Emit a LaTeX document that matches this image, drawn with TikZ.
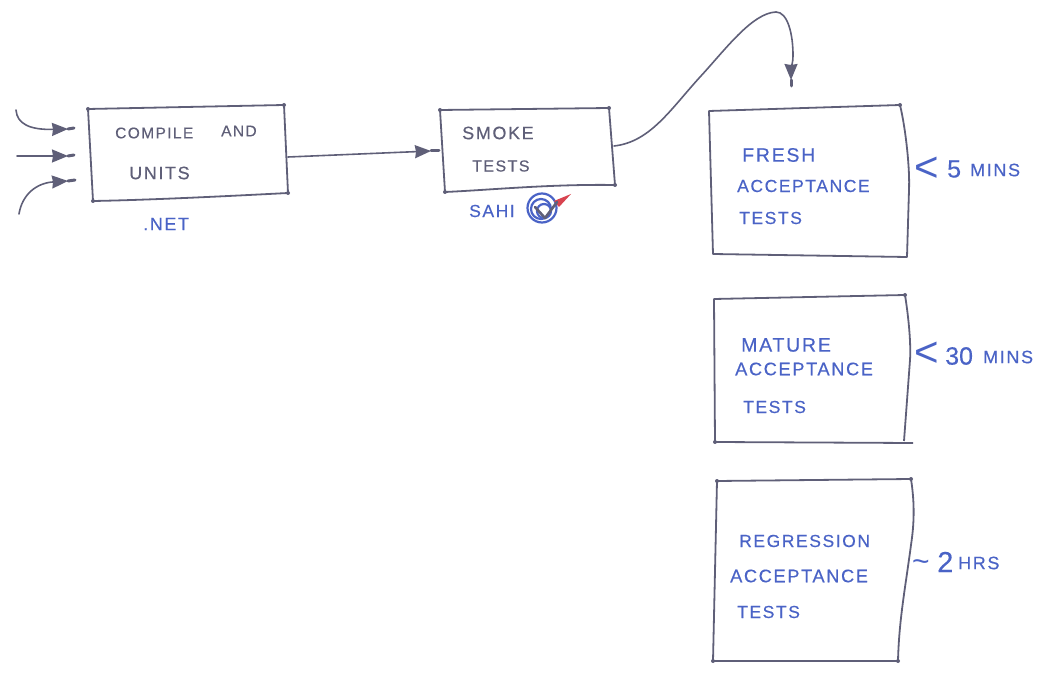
\documentclass[tikz,border=0pt]{standalone}
\usepackage{fontspec}
\setmainfont{Liberation Sans}
\newfontfamily\hand[LetterSpace=9,FakeBold=0.4]{Liberation Sans}
\newfontfamily\handnum[FakeBold=0.3]{Liberation Sans}
\usetikzlibrary{arrows.meta}
\definecolor{ink}{HTML}{5F5F78}
\definecolor{pen}{HTML}{4A63C6}
\definecolor{tick}{HTML}{D8434F}
\tikzset{
  sketchbox/.style={draw=ink,line width=1.8pt,line join=round},
  wire/.style={draw=ink,line width=1.6pt,line cap=round},
  headed/.style={wire,-{Stealth[length=16pt,width=13pt,inset=1pt]}},
  nib/.style={draw=ink,line width=3pt,line cap=round},
  inktext/.style={anchor=west,inner sep=0pt,text=ink,font=\hand\fontsize{15.5}{18}\selectfont},
  inkbig/.style={inktext,font=\hand\fontsize{18}{20}\selectfont},
  inkmid/.style={inktext,font=\hand\fontsize{16}{18}\selectfont},
  pentext/.style={anchor=west,inner sep=0pt,text=pen,font=\hand\fontsize{19.5}{22}\selectfont},
  smallpen/.style={anchor=west,inner sep=0pt,text=pen,font=\hand\fontsize{17.5}{20}\selectfont},
  widepen/.style={smallpen,font=\hand\fontsize{18.2}{20}\selectfont},
  minspen/.style={anchor=west,inner sep=0pt,text=pen,font=\hand\fontsize{18}{20}\selectfont},
  bigpen/.style={anchor=west,inner sep=0pt,text=pen,font=\handnum\fontsize{25}{30}\selectfont},
  hugepen/.style={bigpen,font=\handnum\fontsize{29}{34}\selectfont},
  symbolpen/.style={anchor=west,inner sep=0pt,text=pen,font=\fontsize{42}{42}\selectfont},
  tildepen/.style={symbolpen,font=\fontsize{30}{30}\selectfont},
  helix/.style={draw=pen,line width=2.2pt},
  cornerdot/.style={fill=ink},
}
\begin{document}
\begin{tikzpicture}[x=1pt,y=-1pt]
\useasboundingbox (0,0) rectangle (1037,676);
% box corners
\coordinate (a1) at (88,109); \coordinate (a2) at (284,105); \coordinate (a3) at (288,193); \coordinate (a4) at (93,201);
\coordinate (b1) at (440,110); \coordinate (b2) at (609,108); \coordinate (b3) at (615,185); \coordinate (b4) at (445,192);
\coordinate (c1) at (709,111); \coordinate (c2) at (900,105); \coordinate (c3) at (907,257); \coordinate (c4) at (713,254);
\coordinate (d1) at (714,299); \coordinate (d2) at (905,295); \coordinate (d3) at (913,443); \coordinate (d4) at (715,442);
\coordinate (d5) at (910,360); \coordinate (d6) at (904,441);
\coordinate (e1) at (717,481); \coordinate (e2) at (911,479); \coordinate (e3) at (898,661); \coordinate (e4) at (713,661);
\draw[sketchbox] (a1) -- (a2) -- (a3) .. controls (230,196) and (150,200) .. (a4) -- cycle;
\draw[sketchbox] (b1) -- (b2) -- (b3) .. controls (550,184) and (490,190) .. (b4) -- cycle;
\draw[sketchbox] (c1) -- (c2) .. controls (906,130) and (910,170) .. (909,190) -- (c3) -- (c4) -- cycle;
\draw[sketchbox] (d3) -- (d4) -- (d1) -- (d2) .. controls (909,320) and (911,345) .. (d5) -- (d6);
\draw[sketchbox] (e1) -- (e2) .. controls (915,505) and (914,525) .. (911,545) .. controls (905,590) and (899,620) .. (e3) -- (e4) -- cycle;
\foreach \c in {a1,a2,a3,a4,b1,b2,b3,b4,c2,d2,e1,e2,e3,e4,d4}
  \fill[cornerdot] (\c) circle (2);
% text
\node[inktext] (t1) at (115,133) {COMPILE};
\node[inktext] (t2) at (221,131) {AND};
\node[inkbig] (t3) at (129,173) {UNITS};
\node[inkbig] (t4) at (462,133) {SMOKE};
\node[inkmid] (t5) at (472,166) {TESTS};
\node[minspen] (n1) at (143,224) {.NET};
\node[smallpen] (n2) at (469,211) {SAHI};
\node[pentext] (f1) at (742,155) {FRESH};
\node[smallpen] (f2) at (737,186) {ACCEPTANCE};
\node[smallpen] (f3) at (739,218) {TESTS};
\node[pentext] (m1) at (741,345) {MATURE};
\node[widepen] (m2) at (735,369) {ACCEPTANCE};
\node[smallpen] (m3) at (743,407) {TESTS};
\node[smallpen] (r1) at (739,541) {REGRESSION};
\node[widepen] (r2) at (730,576) {ACCEPTANCE};
\node[smallpen] (r3) at (737,612) {TESTS};
\node[symbolpen] (l1) at (914,169) {<};
\node[bigpen] (l2) at (947,169) {5};
\node[minspen] (l3) at (970,170) {MINS};
\node[symbolpen] (l4) at (914,354) {<};
\node[bigpen] (l5) at (945,356) {30};
\node[minspen] (l6) at (983,357) {MINS};
\node[tildepen] (l7) at (912,566) {\char`\~};
\node[hugepen] (l8) at (937,562) {2};
\node[minspen] (l9) at (958,563) {HRS};
% incoming arrows
\coordinate (i1) at (16,110); \coordinate (i1h) at (68,129); \coordinate (i1e) at (74,128);
\coordinate (i2) at (17,156); \coordinate (i2h) at (68,156); \coordinate (i2e) at (74,155);
\coordinate (i3) at (19,214); \coordinate (i3h) at (68,181); \coordinate (i3e) at (75,180);
\draw[headed] (i1) .. controls (17,124) and (30,130) .. (i1h);
\draw[nib] (i1h) -- (i1e);
\draw[headed] (i2) -- (i2h);
\draw[nib] (i2h) -- (i2e);
\draw[headed] (i3) .. controls (22,195) and (36,183) .. (i3h);
\draw[nib] (i3h) -- (i3e);
% between boxes
\coordinate (a-out) at (288,157);
\coordinate (b-in) at (431,151); \coordinate (b-inn) at (439,151);
\draw[headed] (a-out) -- (b-in);
\draw[nib] (b-in) -- (b-inn);
\coordinate (b-out) at (614,146);
\coordinate (mid) at (700,77);
\coordinate (top) at (776,12);
\coordinate (c-bend) at (793,55);
\coordinate (c-in) at (791,80); \coordinate (c-inn) at (791,86);
\draw[wire] (b-out) .. controls (650,142) and (670,110) .. (mid) .. controls (725,50) and (752,13) .. (top);
\draw[wire] (top) .. controls (788,12) and (793,35) .. (c-bend);
\draw[headed] (c-bend) .. controls (793,64) and (791,68) .. (c-in);
\draw[nib] (c-in) -- (c-inn);
% sahi tick
\coordinate (s) at (542,208);
\coordinate (s2) at (541,209);
\coordinate (s3) at (544,211);
\draw[helix] (s) circle (14.5);
\draw[helix] (s2) circle (10);
\draw[helix] (s3) circle (7);
\coordinate (k1) at (535,207); \coordinate (k2) at (545,218); \coordinate (k3) at (557,202); \coordinate (k4) at (571,194);
\coordinate (k5) at (554,201); \coordinate (k6) at (559,207);
\fill[tick] (k5) -- (k4) -- (k6) -- cycle;
\draw[draw=ink,line width=2.6pt,line cap=round,line join=round] (k1) -- (k2) -- (k3);
\end{tikzpicture}
\end{document}
